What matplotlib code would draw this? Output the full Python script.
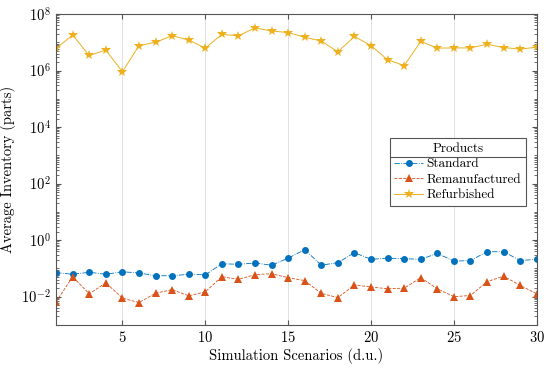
import matplotlib
matplotlib.use('Agg')
import matplotlib.pyplot as plt
from matplotlib.lines import Line2D
from matplotlib.ticker import LogLocator, NullFormatter

plt.rcParams['font.family'] = ['cmr10', 'DejaVu Serif']
plt.rcParams['mathtext.fontset'] = 'cm'
plt.rcParams['axes.formatter.use_mathtext'] = True

# Data
scenarios = list(range(1, 31))
standard = [0.071, 0.062, 0.073, 0.062, 0.076, 0.069, 0.055, 0.055, 0.062, 0.059,
            0.146, 0.14, 0.155, 0.13, 0.23, 0.46, 0.13, 0.16, 0.36, 0.21,
            0.23, 0.22, 0.21, 0.34, 0.18, 0.19, 0.39, 0.39, 0.19, 0.21]
remanufactured = [0.0066, 0.051, 0.0126, 0.031, 0.0089, 0.0062, 0.0132, 0.0178, 0.0107, 0.0148,
                  0.051, 0.041, 0.06, 0.065, 0.047, 0.037, 0.013, 0.0093, 0.026, 0.022,
                  0.019, 0.02, 0.047, 0.019, 0.010, 0.011, 0.034, 0.053, 0.025, 0.0126]
refurbished = [6.1e6, 1.8e7, 3.4e6, 5.3e6, 9e5, 7.6e6, 1.0e7, 1.7e7, 1.2e7, 6.2e6,
               1.9e7, 1.7e7, 3.2e7, 2.5e7, 2.2e7, 1.5e7, 1.1e7, 4.6e6, 1.6e7, 7.6e6,
               2.4e6, 1.5e6, 1.07e7, 6.2e6, 6.3e6, 6.3e6, 8.5e6, 6.5e6, 5.7e6, 6.7e6]

fig = plt.figure(figsize=(5.5, 3.68), dpi=100)
ax = fig.add_axes([0.102, 0.117, 0.874, 0.845])

ax.plot(scenarios, standard, '-.', color='#0072BD', lw=0.6, marker='o', ms=5,
        markeredgewidth=0, label='Standard')
ax.plot(scenarios, remanufactured, '--', color='#D95319', lw=0.6, marker='^', ms=6,
        markeredgewidth=0, label='Remanufactured')
ax.plot(scenarios, refurbished, '-', color='#EDB120', lw=0.7, marker='*', ms=7,
        markeredgewidth=0, label='Refurbished')

ax.set_yscale('log')
ax.set_xlim(1, 30)
ax.set_ylim(1e-3, 1e8)
ax.set_xticks([5, 10, 15, 20, 25, 30])
ax.set_yticks([1e-2, 1e0, 1e2, 1e4, 1e6, 1e8])
ax.yaxis.set_minor_locator(LogLocator(base=10, subs=range(1, 10), numticks=100))
ax.yaxis.set_minor_formatter(NullFormatter())
ax.tick_params(which='both', direction='in', top=True, right=True, labelsize=10.5,
               color='#555555')
ax.tick_params(which='major', length=3.5)
ax.tick_params(which='minor', length=2)
ax.tick_params(axis='x', which='minor', top=False, bottom=False)
ax.xaxis.grid(True, color='#e0e0e0', lw=0.7)
ax.set_axisbelow(True)
for s in ax.spines.values():
    s.set_color('#555555')
    s.set_linewidth(0.8)

ax.set_xlabel('Simulation Scenarios (d.u.)', fontsize=10.5, labelpad=2)
ax.set_ylabel('Average Inventory (parts)', fontsize=10.5, labelpad=4)

leg = ax.legend(title='Products', loc='upper left', bbox_to_anchor=(0.694, 0.601),
                fontsize=9.5, title_fontsize=9.5, frameon=True, fancybox=False,
                edgecolor='#555555', framealpha=1, borderpad=0.35, handlelength=2.2,
                handletextpad=0.25, labelspacing=0.25, borderaxespad=0)
leg.get_frame().set_linewidth(0.8)

# separator line under legend title
fig.canvas.draw()
lb = leg.get_window_extent()
tb = leg.get_title().get_window_extent()
inv = fig.transFigure.inverted()
x0, y0 = inv.transform((lb.x0, tb.y0 - 2))
x1, _ = inv.transform((lb.x1, tb.y0 - 2))
fig.add_artist(Line2D([x0, x1], [y0, y0], color='#555555', lw=0.8, zorder=10))

fig.savefig('out.png', dpi=100)
